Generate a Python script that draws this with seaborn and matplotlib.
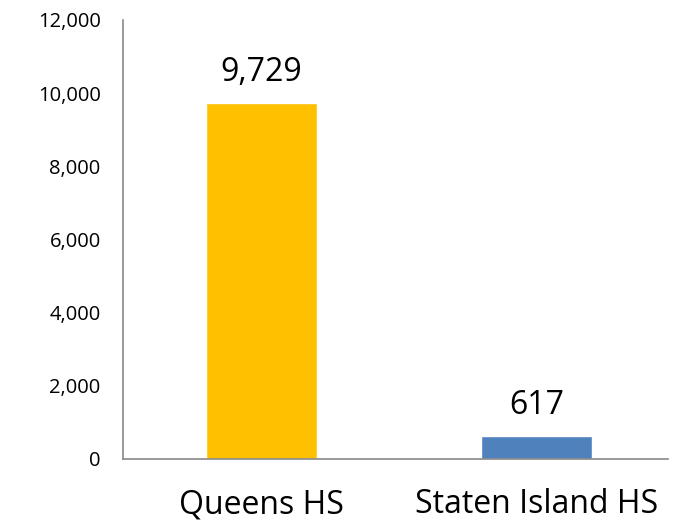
import matplotlib
matplotlib.use("Agg")
import matplotlib.pyplot as plt
import seaborn as sns
import pandas as pd
from matplotlib.ticker import FuncFormatter

categories = ["Queens HS", "Staten Island HS"]
values = [9729, 617]
colors = ["#FFC000", "#4F81BD"]
yticks = [0, 2000, 4000, 6000, 8000, 10000, 12000]

sns.set_theme(style="white")
plt.rcParams["font.family"] = ["Open Sans", "DejaVu Sans"]

df = pd.DataFrame({"cat": categories, "val": values})

fig = plt.figure(figsize=(6.75, 5.22), dpi=100)
ax = fig.add_axes([0.182, 0.121, 0.808, 0.841])
sns.barplot(data=df, x="cat", y="val", hue="cat", palette=colors, legend=False,
            width=0.404, saturation=1, ax=ax)

ax.set_ylim(0, 12000)
ax.set_xlim(-0.504, 1.478)
ax.set_yticks(yticks)
ax.yaxis.set_major_formatter(FuncFormatter(lambda v, p: f"{int(v):,}"))
ax.set_xlabel("")
ax.set_ylabel("")
ax.tick_params(axis="y", labelsize=14.5, length=0, pad=16, labelcolor="black")
ax.tick_params(axis="x", labelsize=23, length=0, pad=21, labelcolor="black")
for s in ["top", "right"]:
    ax.spines[s].set_visible(False)
for s in ["left", "bottom"]:
    ax.spines[s].set_color("#898989")
    ax.spines[s].set_linewidth(1.2)

for i, v in enumerate(values):
    ax.annotate(f"{v:,}", (i, v), xytext=(0, 16), textcoords="offset points",
                ha="center", va="baseline", fontsize=23, color="black")

fig.savefig("out.png", dpi=100)
